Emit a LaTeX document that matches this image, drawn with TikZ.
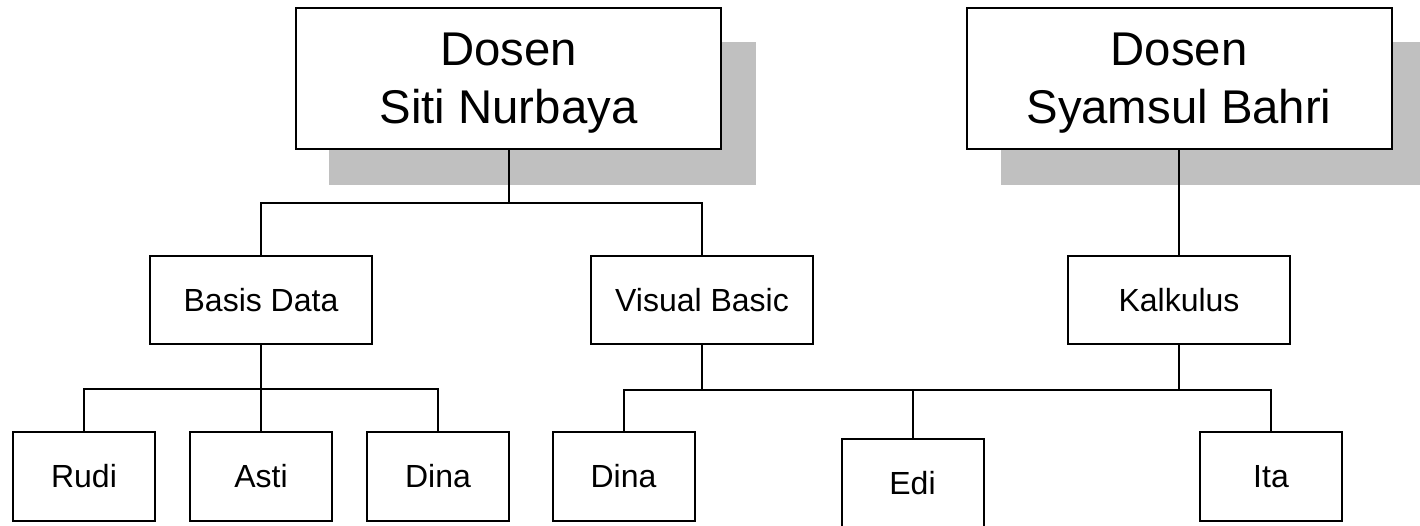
\documentclass[tikz,border=0pt]{standalone}
\usepackage{fontspec}
\setmainfont{Liberation Sans}
\usetikzlibrary{backgrounds}
\definecolor{shadowgray}{HTML}{C0C0C0}
\begin{document}
\begin{tikzpicture}[x=0.75pt,y=-0.75pt, line width=1.5pt,
  bigbox/.style={draw, fill=white, minimum width=318.75pt, minimum height=105.75pt, inner sep=0pt, align=center, font=\fontsize{35.5}{43.5}\selectfont, text depth=0pt},
  midbox/.style={draw, fill=white, minimum width=166.5pt, minimum height=66pt, inner sep=0pt, font=\fontsize{24}{28}\selectfont},
  leafbox/.style={draw, fill=white, minimum width=106.5pt, minimum height=66.75pt, inner sep=0pt, font=\fontsize{24}{28}\selectfont},
  shadowfill/.style={fill=shadowgray, draw=none},
  link/.style={draw, line width=1.5pt}
]
\useasboundingbox (0,0) rectangle (1420,525);

\node[bigbox] (siti) at (508.5,78.5) {Dosen\\Siti Nurbaya};
\node[bigbox] (syamsul) at (1179,78.5) {Dosen\\Syamsul Bahri};
\node[midbox] (bd) at (261,300) {Basis Data};
\node[midbox] (vb) at (702,300) {Visual Basic};
\node[midbox] (kal) at (1179,300) {Kalkulus};
\node[leafbox] (rudi) at (84,476.5) {Rudi};
\node[leafbox] (asti) at (261,476.5) {Asti};
\node[leafbox] (dina1) at (438,476.5) {Dina};
\node[leafbox] (dina2) at (623.5,476.5) {Dina};
\node[leafbox] (edi) at (912.5,483.5) {Edi};
\node[leafbox] (ita) at (1271,476.5) {Ita};

\begin{scope}[on background layer]
  \fill[shadowfill] ([shift={(34,35)}]siti.north west) rectangle ([shift={(34,35)}]siti.south east);
  \fill[shadowfill] ([shift={(35,35)}]syamsul.north west) rectangle ([shift={(35,35)}]syamsul.south east);
\end{scope}

\coordinate (j1) at (508.5,203);
\coordinate (j2) at (261,389);
\coordinate (j3) at (702,390);
\coordinate (j4) at (1179,390);

\draw[link] (siti.south) -- (j1);
\draw[link] (bd.north) |- (j1) -| (vb.north);
\draw[link] (syamsul.south) -- (kal.north);
\draw[link] (bd.south) -- (asti.north);
\draw[link] (rudi.north) |- (j2) -| (dina1.north);
\draw[link] (vb.south) -- (j3);
\draw[link] (kal.south) -- (j4);
\draw[link] (dina2.north) |- (j4);
\draw[link] (edi.north) -- (edi.north |- j4);
\draw[link] (j4) -| (ita.north);
\end{tikzpicture}
\end{document}
